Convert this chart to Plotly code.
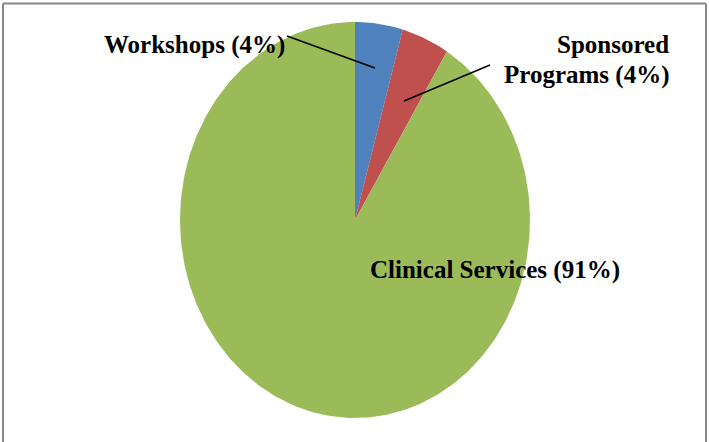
import numpy as np
import plotly.graph_objects as go

categories = ["Workshops", "Sponsored Programs", "Clinical Services"]
values = [4.4, 4.4, 91.2]
colors = ["#4F81BD", "#C0504D", "#9BBB59"]

W, H = 709, 442
cx_px, cy_px = 355, 220
rx_px, ry_px = 175, 198

fig = go.Figure()

total = sum(values)
start = 0.0
for cat, v, c in zip(categories, values, colors):
    a0 = start / total * 2 * np.pi
    a1 = (start + v) / total * 2 * np.pi
    th = np.linspace(a0, a1, max(8, int(v * 4)))
    xs = np.concatenate([[0], np.sin(th), [0]])
    ys = np.concatenate([[0], np.cos(th), [0]])
    fig.add_trace(go.Scatter(x=xs, y=ys, mode="lines", fill="toself",
                             fillcolor=c, line=dict(width=0, color=c),
                             name=cat, hoverinfo="name", showlegend=False))
    start += v

pct = [round(v / total * 100) for v in values]

fig.update_xaxes(visible=False, range=[-cx_px / rx_px, (W - cx_px) / rx_px])
fig.update_yaxes(visible=False, range=[-(H - cy_px) / ry_px, cy_px / ry_px])

font = dict(family="Liberation Serif", size=25, color="black")

def px(x):
    return x / W

def py(y):
    return 1 - y / H

annos = [
    dict(text=f"<b>{categories[0]} ({pct[0]}%)</b>", x=px(287), y=py(45), xanchor="right", yanchor="middle"),
    dict(text="<b>Sponsored</b>", x=px(671), y=py(45), xanchor="right", yanchor="middle"),
    dict(text=f"<b>Programs ({pct[1]}%)</b>", x=px(671), y=py(75), xanchor="right", yanchor="middle"),
    dict(text=f"<b>{categories[2]} ({pct[2]}%)</b>", x=px(368), y=py(270), xanchor="left", yanchor="middle"),
]
for a in annos:
    fig.add_annotation(xref="paper", yref="paper", showarrow=False, font=font, **a)

# leader lines
fig.add_shape(type="line", xref="paper", yref="paper", x0=px(287), y0=py(36), x1=px(375), y1=py(68),
              line=dict(color="black", width=1.5))
fig.add_shape(type="line", xref="paper", yref="paper", x0=px(490), y0=py(65), x1=px(404), y1=py(101),
              line=dict(color="black", width=1.5))
# frame (top, left, right edges)
frame = dict(color="#888888", width=2)
fig.add_shape(type="line", xref="paper", yref="paper", x0=px(3), y0=py(3.5), x1=px(706), y1=py(3.5),
              line=frame, layer="above")
fig.add_shape(type="line", xref="paper", yref="paper", x0=px(3), y0=py(3.5), x1=px(3), y1=py(450),
              line=frame, layer="above")
fig.add_shape(type="line", xref="paper", yref="paper", x0=px(706), y0=py(3.5), x1=px(706), y1=py(450),
              line=frame, layer="above")

fig.update_layout(width=W, height=H, margin=dict(l=0, r=0, t=0, b=0),
                  paper_bgcolor="white", plot_bgcolor="white")

fig.write_html("out.html", config={"displayModeBar": False},
               post_script="document.body.style.margin='0px';document.body.style.overflow='hidden';")
